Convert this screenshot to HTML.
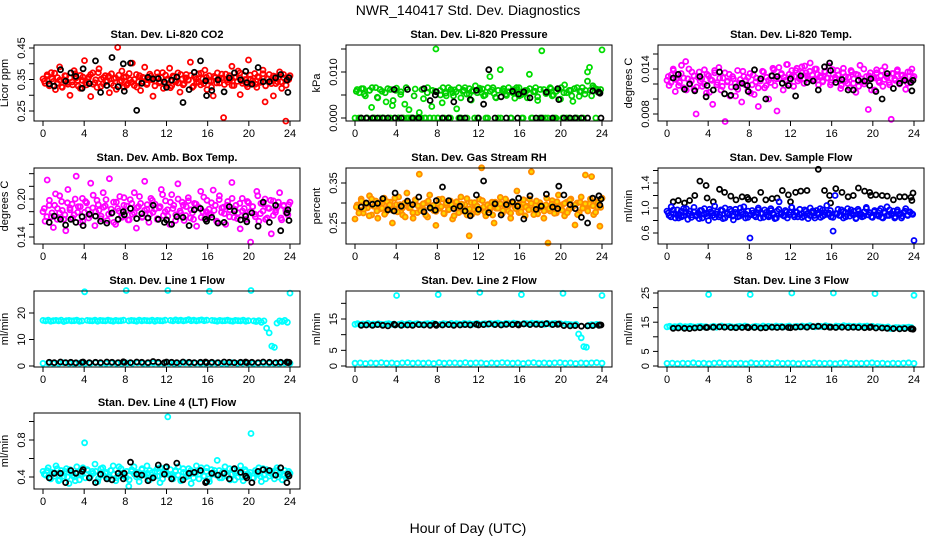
<!DOCTYPE html>
<html><head><meta charset="utf-8"><title>NWR_140417 Std. Dev. Diagnostics</title>
<style>
html,body{margin:0;padding:0;background:#fff;}
svg{display:block;font-family:"Liberation Sans",sans-serif;}
</style></head>
<body>
<svg id="chart" width="936" height="540" viewBox="0 0 936 540" xmlns="http://www.w3.org/2000/svg">
<rect x="0" y="0" width="936" height="540" fill="#fff"/>
<text x="468" y="15" font-size="14" text-anchor="middle">NWR_140417  Std. Dev. Diagnostics</text>
<text x="468" y="533" font-size="14" text-anchor="middle">Hour of Day (UTC)</text>
</svg>
<script>
// ---------- data ----------
const xTicks = [0,4,8,12,16,20,24];
const blackHours = [0.6,1.1,1.7,2.2,2.7,3.2,3.8,3.9,4.5,5.1,5.6,6.2,6.7,7.3,7.8,7.9,8.5,9.1,9.6,10.2,10.7,11.2,11.8,12.0,12.5,13.0,13.6,14.2,14.7,15.3,15.8,15.9,16.4,17.0,17.6,18.1,18.6,19.2,19.7,19.8,20.3,20.9,21.4,22.0,22.6,23.1,23.7,23.8,23.9];

const co2Red = [352,338,365,331,372,344,318,356,390,327,349,361,335,300,342,378,355,329,363,347,
410,333,358,296,371,340,325,384,351,336,362,345,308,368,331,355,452,342,377,326,
359,338,349,402,331,366,343,315,357,389,334,350,361,297,345,372,339,356,322,364,
348,386,330,358,343,371,310,352,337,366,349,405,325,359,341,368,333,352,380,318,
362,345,298,356,371,339,354,229,367,342,349,392,331,358,377,302,346,363,334,412,
351,338,369,325,357,344,380,279,352,366,337,298,359,343,374,322,355,218,348,362].map(v=>v/1000);
const co2Red2 = [345,360,330,352,370,338,348,325,362,341,355,333,368,347,322,358,340,351,366,335,
349,372,328,356,343,361,337,353,319,364,346,357,332,369,341,350,326,362,344,355,
338,367,349,330,358,343,372,336,352,324,361,347,339,366,333,355,348,363,329,351,
342,370,337,357,345,326,360,339,353,367,334,349,362,331,356,344,371,338,350,327,
364,346,335,359,341,368,330,352,345,361,337,356,343,366,332,350].map(v=>v/1000);
const co2Black = [336,329,381,345,371,360,322,384,337,409,309,331,420,327,400,313,402,252,338,357,352,353,342,325,348,358,277,318,373,409,346,299,315,349,311,355,371,349,376,340,335,388,343,343,355,366,348,309,356].map(v=>v/1000);

const presGreen = [0,62,55,0,64,48,0,60,23,0,66,44,0,58,0,35,0,62,27,0,65,0,51,0,30,0,18,0,0,63,0,12,0,42,0,66,0,25,0,150,
0,60,33,0,48,66,0,55,61,20,0,44,58,66,0,52,39,60,70,0,65,55,48,0,66,90,61,53,44,0,105,60,58,49,66,0,55,43,61,66,
50,0,60,44,95,0,57,66,38,0,146,62,53,0,66,48,0,58,63,41,0,72,55,0,60,36,0,66,47,58,0,60,100,110,48,66,0,62,55,148].map(v=>v/10000);
const presGreen2 = [58,0,64,52,0,60,66,0,45,62,0,55,64,0,38,60,0,57,0,66,0,0,48,0,
0,62,0,55,0,60,58,0,50,66,54,0,62,48,57,66,0,60,52,64,58,0,55,61,
63,50,0,58,66,45,60,0,64,52,57,0,62,66,48,0,55,60,64,0,58,46,62,0,
0,57,64,50,0,62,66,55,0,60,48,64,0,58,66,52,80,60,70,64,56,62].map(v=>v/10000);
const presBlack = [0,0,0,0,0,0,62,0,0,62,0,0,64,38,50,57,0,0,35,0,0,40,60,0,30,105,0,46,0,58,0,52,57,44,0,0,56,0,64,40,0,0,0,0,0,59,56,54,0].map(v=>v/10000);

const tempMag = [125,118,132,140,110,128,122,145,115,150,127,121,136,113,80,129,124,117,139,108,
131,126,93,135,119,142,112,128,70,123,133,116,127,104,138,121,96,130,125,111,
134,119,106,128,90,124,137,115,129,100,122,141,118,84,127,133,112,125,146,120,
130,117,138,124,129,143,121,135,127,148,132,126,140,119,131,124,137,128,144,122,
133,129,138,126,118,141,130,121,115,136,127,109,132,145,123,120,130,86,135,128,
112,139,124,131,117,143,129,122,73,134,125,139,120,131,127,113,136,123,140,130].map(v=>v/10000);
const tempMag2 = [130,122,138,126,118,134,128,112,140,124,131,116,136,127,120,133,109,125,138,122,
128,117,135,124,104,130,121,113,126,137,119,129,108,132,123,115,127,136,118,125,
131,139,127,142,134,129,146,133,138,130,141,127,135,144,131,137,126,140,133,129,
123,136,128,119,139,126,132,114,135,124,129,138,121,133,117,127,140,123,131,112,
128,135,122,138,126,131,119,134,127,137,124,132,129,121,136,128].map(v=>v/10000);
const tempBlack = [128,133,113,120,111,130,103,118,112,136,107,105,116,121,118,110,139,127,100,131,
130,121,118,127,104,131,122,124,112,143,148,138,122,126,112,112,125,124,118,127,110,100,134,114,121,125,122,111,125].map(v=>v/10000);

const ambMag = [180,165,230,190,172,155,208,185,178,196,168,150,215,183,192,175,236,188,163,201,
179,194,170,225,186,158,198,182,173,210,189,166,232,177,195,160,185,204,171,190,
181,167,199,176,210,154,188,193,172,228,184,163,201,179,192,168,186,215,174,197,
183,160,207,190,175,224,181,195,166,188,202,170,178,193,157,186,212,180,169,198,
184,175,214,190,163,205,179,187,160,196,183,226,171,190,178,153,201,185,168,194,
132,188,176,212,165,193,181,200,170,185,145,197,179,188,210,167,190,182,175,195].map(v=>v/1000);
const ambMag2 = [185,172,198,178,190,168,205,182,175,194,186,170,200,179,188,165,196,183,174,206,
180,191,169,187,199,176,184,163,195,181,173,202,189,167,193,178,186,204,171,182,
191,176,198,184,169,188,207,180,173,195,185,166,200,178,190,174,197,183,168,192,
187,171,203,180,176,194,182,165,199,186,177,190,172,201,184,169,193,181,175,196,
180,188,172,205,177,192,168,186,198,174,183,195,170,189,178,191].map(v=>v/1000);
const ambBlack = [163,173,168,159,168,163,172,158,176,173,165,162,178,168,180,175,185,169,177,170,
190,168,163,167,160,172,171,158,183,185,168,165,171,162,163,188,181,167,173,164,178,157,195,163,190,150,178,183,166].map(v=>v/1000);

const rhOrange = [260,295,282,310,275,300,288,318,270,292,305,262,285,298,312,278,290,302,250,286,
296,315,280,270,300,325,288,294,262,308,276,372,290,284,300,265,320,292,281,244,
298,287,310,273,295,283,305,260,291,300,276,315,288,296,270,218,301,285,293,277,
309,388,290,268,296,283,302,250,287,298,314,274,293,305,280,262,299,290,330,276,
285,300,268,292,310,378,284,296,273,301,288,262,295,200,280,306,290,275,320,287,
296,268,302,283,310,292,245,300,276,315,290,370,284,298,366,271,303,289,242,312].map(v=>v/1000);
const rhOrange2 = [290,275,305,285,298,268,310,292,280,300,287,272,303,295,282,312,278,296,288,265,
301,289,276,307,293,281,298,270,305,286,294,279,309,291,274,300,284,296,268,303,
288,297,279,311,285,272,301,292,283,306,277,295,289,270,302,287,298,281,310,293,
275,300,286,296,278,308,290,283,299,271,305,288,294,280,312,286,297,274,303,291,
282,299,276,307,289,295,271,302,287,298,280,310,293,277,301,289].map(v=>v/1000);
const rhBlack = [290,300,297,299,311,283,280,325,292,305,296,315,278,288,282,306,340,306,286,292,
280,268,320,284,355,276,298,270,296,303,292,312,260,318,284,292,322,290,286,342,320,296,286,264,250,312,318,295,310].map(v=>v/1000);

const flowBlue = [95,88,102,91,84,97,90,86,99,93,82,95,89,101,87,92,96,84,99,91,
80,94,88,103,90,86,97,83,100,92,89,95,81,98,91,87,94,102,90,85,
52,96,88,93,100,84,91,97,89,86,99,92,83,95,110,90,88,96,84,93,
101,89,94,86,98,91,87,95,83,100,92,88,96,90,85,97,89,104,92,86,
63,120,91,88,97,84,93,99,87,91,95,83,98,90,86,94,101,89,92,85,
96,90,87,99,84,93,102,88,91,95,86,97,90,84,93,99,88,94,91,48].map(v=>v/100);
const flowBlue2 = [92,86,97,90,84,95,88,99,91,85,94,89,83,96,90,87,98,92,85,94,
89,96,84,91,98,87,93,86,100,90,84,95,89,92,86,97,91,85,93,88,
96,90,84,98,92,87,94,89,101,86,93,90,85,97,91,88,95,84,92,99,
87,93,90,96,85,91,98,88,94,86,92,97,89,84,95,90,87,99,93,86,
94,89,96,85,92,88,97,90,84,94,91,87,95,89,93,90].map(v=>v/100);
const flowBlack = [110,112,108,112,120,143,136,116,110,130,125,119,113,118,117,114,113,125,113,115,
116,128,121,110,125,127,128,95,162,128,120,108,131,125,118,120,132,127,125,120,121,120,119,113,118,118,117,112,124].map(v=>v/100);

const line1Cyan = [17.2,17,17.3,16.9,17.1,17.2,17,17.3,16.8,17.1,17.2,17,17.1,17.3,16.9,17,28,17.2,17.1,17,17.3,16.9,17.2,17.1,
17,17.3,17.1,16.9,17.2,17,17.1,17.3,28.5,17,17.2,17.1,16.9,17.3,17,17.2,17.1,17,17.3,16.9,17.2,17.1,17,17.3,
28.5,17.2,17,17.4,17.1,17.3,17,17.2,17.5,17.1,17.3,17,17.2,17.4,17.1,17.3,28.2,17.2,17.1,16.9,17.2,17,17.1,17.3,
17,16.9,17.2,17.1,17,17.3,16.9,17.1,28.5,17,16.8,17.1,16.5,17,14.3,12.5,7.5,7.0,16.2,17,16.8,17.2,16.5,27.5];
const line1Low = [1.0,1.1,0.9,1.0,1.2,1.0,0.9,1.1,1.0,1.0,1.2,0.9,1.0,1.1,1.0,0.9,1.1,1.0,1.2,1.0,0.9,1.1,1.0,1.0,
1.1,0.9,1.0,1.2,1.0,1.1,0.9,1.0,1.0,1.1,1.0,0.9,1.2,1.0,1.1,1.0,0.9,1.0,1.1,1.0,1.0,0.9,1.1,1.0];
const line1Black = [1.4,1.3,1.5,1.3,1.4,1.2,1.4,1.5,1.3,1.4,1.3,1.5,1.4,1.3,1.6,1.4,1.3,1.5,1.4,1.3,1.7,1.4,1.3,1.5,1.4,
1.3,1.5,1.4,1.3,1.4,1.5,1.3,1.4,1.3,1.5,1.4,1.3,1.4,1.5,1.3,1.4,1.3,1.5,1.4,1.3,1.4,1.5,1.3,1.4];

const line2Cyan = [13.3,13.5,13.2,13.4,13.3,13.6,13.2,13.4,13.3,13.5,13.3,13.2,13.4,13.5,13.3,13.4,22.5,13.3,13.5,13.2,13.4,13.6,13.3,13.4,
13.5,13.3,13.2,13.4,13.5,13.3,13.6,13.4,22.8,13.3,13.5,13.4,13.2,13.6,13.3,13.5,13.4,13.3,13.6,13.4,13.5,13.3,13.4,13.6,
23.5,13.4,13.5,13.3,13.6,13.4,13.5,13.7,13.4,13.3,13.6,13.5,13.4,13.7,13.5,13.4,22.8,13.6,13.5,13.4,13.7,13.5,13.6,13.4,
13.5,13.3,13.6,13.4,13.5,13.6,13.3,13.5,23.2,13.4,13.3,13.2,13.1,13.3,10.2,9.0,6.2,6.0,13.0,13.2,13.1,13.3,13.2,22.5];
const line2Low = [0.9,1.0,0.8,1.0,0.9,1.1,0.9,1.0,0.8,1.0,1.1,0.9,1.0,0.9,1.0,0.8,1.1,0.9,1.0,1.0,0.9,1.1,0.9,1.0,
1.0,0.8,1.0,0.9,1.1,1.0,0.9,1.0,0.8,1.0,1.1,0.9,1.0,0.9,1.0,1.1,0.9,1.0,0.8,1.0,0.9,1.0,1.1,0.9];
const line2Black = [13.0,13.1,13.0,13.2,13.0,12.8,13.3,13.1,13.0,13.1,13.0,13.2,13.1,13.0,13.3,13.0,13.1,13.2,13.0,13.1,
13.2,13.1,13.3,13.1,13.2,13.4,13.2,13.1,13.3,13.2,13.3,13.1,13.4,13.2,13.3,13.2,13.5,13.2,13.3,13.4,
12.9,12.8,12.9,12.7,12.8,12.9,13.0,13.1,13.1];

const line3Cyan = [13.4,13.6,13.3,13.5,13.4,13.7,13.3,13.5,13.4,13.6,13.4,13.3,13.5,13.6,13.4,13.5,24.5,13.4,13.6,13.3,13.5,13.7,13.4,13.5,
13.6,13.4,13.3,13.5,13.6,13.4,13.7,13.5,24.5,13.4,13.6,13.5,13.3,13.7,13.4,13.6,13.5,13.4,13.7,13.5,13.6,13.4,13.5,13.7,
25.0,13.5,13.6,13.4,13.7,13.5,13.6,13.8,13.5,13.4,13.7,13.6,13.5,13.8,13.6,13.5,25.0,13.7,13.6,13.5,13.8,13.6,13.7,13.5,
13.6,13.4,13.7,13.5,13.6,13.7,13.4,13.6,24.8,13.5,13.4,13.3,13.2,13.4,12.8,13.0,13.2,13.1,13.0,13.2,13.1,13.3,13.2,24.2];
const line3Low = [0.9,1.0,0.8,1.0,0.9,1.1,0.9,1.0,0.8,1.0,1.1,0.9,1.0,0.9,1.0,0.8,1.1,0.9,1.0,1.0,0.9,1.1,0.9,1.0,
1.0,0.8,1.0,0.9,1.1,1.0,0.9,1.0,0.8,1.0,1.1,0.9,1.0,0.9,1.0,1.1,0.9,1.0,0.8,1.0,0.9,1.0,1.1,0.9];
const line3Black = [12.9,13.0,12.9,12.8,13.0,13.1,13.2,13.2,13.3,13.4,13.3,13.2,13.1,13.2,13.3,13.1,13.2,13.0,13.1,13.3,
13.2,13.3,13.2,13.1,13.3,13.4,13.3,13.5,13.6,13.4,13.3,13.3,13.2,13.3,13.2,13.3,13.2,13.1,13.2,13.4,
13.0,13.0,12.9,12.8,12.7,12.8,12.7,12.8,12.6];

const line4Cyan = [460,420,500,380,440,520,360,470,410,490,330,450,400,510,370,430,770,480,390,460,540,350,420,500,
440,380,470,520,360,410,490,430,390,300,460,510,400,350,480,430,520,370,450,410,490,340,440,500,
1050,420,380,470,510,360,450,400,490,330,440,520,380,460,410,500,350,430,470,580,390,450,510,420,
370,480,440,400,520,360,460,430,870,390,450,500,350,420,480,410,460,380,500,430,370,470,410,440].map(v=>v/1000);
const line4Cyan2 = [430,470,390,450,410,490,370,440,460,400,480,420,360,450,430,500,390,470,410,440,
460,380,490,420,450,400,470,430,390,510,440,410,460,370,480,430,450,400,490,420,
440,470,390,460,410,500,380,450,430,480,400,460,420,370,490,440,410,470,390,450,
430,500,410,460,380,480,440,420,470,390,450,410,490,430,370,460,440,400,480,420,
450,390,470,430,410,490,380,460,440,420,470,400,450,430,390,460].map(v=>v/1000);
const line4Black = [390,440,440,340,470,440,460,480,390,340,430,380,370,440,380,440,560,430,420,360,
390,530,430,510,380,550,370,440,450,470,340,350,440,420,440,380,490,450,410,390,
340,460,480,470,420,500,340,430,410].map(v=>v/1000);

// ---------- layout ----------
const colLeft = [34,346,658];
const rowTop = [45,168,291,413];
const boxW = 266, boxH = 76;
const svg = document.getElementById('chart');
const NS = 'http://www.w3.org/2000/svg';

function el(tag, attrs, parent){
  const e = document.createElementNS(NS, tag);
  for (const k in attrs) e.setAttribute(k, attrs[k]);
  (parent||svg).appendChild(e);
  return e;
}

const panels = [
  {col:0,row:0,title:'Stan. Dev. Li-820 CO2',ylab:'Licor ppm',cal:[0.25,66,0.45,3],ticks:[0.25,0.30,0.35,0.40,0.45],labels:['0.25','0.35','0.45'],
   series:[{c:'#ff0000',v:co2Red},{c:'#ff0000',v:co2Red2,off:true},{c:'#000',v:co2Black,h:blackHours}]},
  {col:1,row:0,title:'Stan. Dev. Li-820 Pressure',ylab:'kPa',cal:[0,73,0.010,27],ticks:[0,0.005,0.010,0.015],labels:['0.000','0.010'],
   series:[{c:'#00dd00',v:presGreen},{c:'#00cc00',v:presGreen2,off:true},{c:'#000',v:presBlack,h:blackHours}]},
  {col:2,row:0,title:'Stan. Dev. Li-820 Temp.',ylab:'degrees C',cal:[0.008,69,0.014,24],ticks:[0.008,0.010,0.012,0.014,0.016],labels:['0.008','0.014'],
   series:[{c:'#ff00ff',v:tempMag},{c:'#ff00ff',v:tempMag2,off:true},{c:'#000',v:tempBlack,h:blackHours}]},
  {col:0,row:1,title:'Stan. Dev. Amb. Box Temp.',ylab:'degrees C',cal:[0.14,69,0.20,31],ticks:[0.14,0.16,0.18,0.20,0.22,0.24],labels:['0.14','0.20'],
   series:[{c:'#ff00ff',v:ambMag},{c:'#ff00ff',v:ambMag2,off:true},{c:'#000',v:ambBlack,h:blackHours}]},
  {col:1,row:1,title:'Stan. Dev. Gas Stream RH',ylab:'percent',cal:[0.25,55,0.35,15],ticks:[0.25,0.30,0.35],labels:['0.25','0.35'],
   series:[{c:'#ff8c00',f:'#ffd700',v:rhOrange},{c:'#ff8c00',f:'#ffd700',v:rhOrange2,off:true},{c:'#000',v:rhBlack,h:blackHours}]},
  {col:2,row:1,title:'Stan. Dev. Sample Flow',ylab:'ml/min',cal:[0.6,65,1.4,15],ticks:[0.6,0.8,1.0,1.2,1.4,1.6],labels:['0.6','1.0','1.4'],
   series:[{c:'#000',v:flowBlack,h:blackHours},{c:'#0000ff',v:flowBlue},{c:'#0000ff',v:flowBlue2,off:true}]},
  {col:0,row:2,title:'Stan. Dev. Line 1 Flow',ylab:'ml/min',cal:[0,75,20,22],ticks:[0,10,20],labels:['0','10','20'],
   series:[{c:'#00ffff',v:line1Cyan},{c:'#00ffff',v:line1Low},{c:'#000',v:line1Black,h:blackHours}]},
  {col:1,row:2,title:'Stan. Dev. Line 2 Flow',ylab:'ml/min',cal:[0,75,15,28],ticks:[0,5,10,15,20],labels:['0','5','15'],
   series:[{c:'#00ffff',v:line2Cyan},{c:'#00ffff',v:line2Low},{c:'#000',v:line2Black,h:blackHours}]},
  {col:2,row:2,title:'Stan. Dev. Line 3 Flow',ylab:'ml/min',cal:[0,75,25,2],ticks:[0,5,10,15,20,25],labels:['0','5','15','25'],
   series:[{c:'#00ffff',v:line3Cyan},{c:'#00ffff',v:line3Low},{c:'#000',v:line3Black,h:blackHours}]},
  {col:0,row:3,title:'Stan. Dev. Line 4 (LT) Flow',ylab:'ml/min',cal:[0.4,64,0.8,27],ticks:[0.4,0.6,0.8,1.0],labels:['0.4','0.8'],
   series:[{c:'#00ffff',v:line4Cyan},{c:'#00ffff',v:line4Cyan2,off:true},{c:'#000',v:line4Black,h:blackHours}]}
];

panels.forEach((p, pi) => {
  const L = colLeft[p.col], T = rowTop[p.row];
  const g = el('g', {});
  
  
  const xAt = h => L + 9 + h * (247/24);
  const yAt = v => T + p.cal[1] + (v - p.cal[0]) * (p.cal[3] - p.cal[1]) / (p.cal[2] - p.cal[0]);

  const title = el('text', {x: L + boxW/2, y: T - 7, 'font-size': 11, 'font-weight': 'bold', 'text-anchor': 'middle'}, g);
  
  
  title.textContent = p.title;

  const ylab = el('text', {x: 0, y: 0, 'font-size': 11, 'text-anchor': 'middle', transform: `translate(${L - 26},${T + boxH/2}) rotate(-90)`}, g);
  
  
  ylab.textContent = p.ylab;

  p.series.forEach((s, si) => {
    const sg = el('g', {stroke: s.c, fill: s.f || 'none', 'stroke-width': 1.8}, g);
    
    
    s.v.forEach((v, i) => {
      const h = s.h ? s.h[i] : (s.off ? (i + 0.5) * 24 / s.v.length : i * 24 / (s.v.length - 1));
      const c = el('circle', {cx: xAt(h).toFixed(1), cy: yAt(v).toFixed(1), r: 2.5}, sg);
      
      
    });
  });

  const box = el('rect', {x: L, y: T, width: boxW, height: boxH, fill: 'none', stroke: '#000', 'stroke-width': 1}, g);
  
  

  const xa = el('g', {stroke: '#000', 'stroke-width': 1}, g);
  
  
  xTicks.forEach(t => {
    el('line', {x1: xAt(t), x2: xAt(t), y1: T + boxH, y2: T + boxH + 5}, xa);
    const tx = el('text', {x: xAt(t), y: T + boxH + 16, 'font-size': 11, 'text-anchor': 'middle', stroke: 'none', fill: '#000'}, xa);
    
    
    tx.textContent = t;
  });

  const ya = el('g', {stroke: '#000', 'stroke-width': 1}, g);
  
  
  p.ticks.forEach(t => {
    el('line', {x1: L, x2: L - 5, y1: yAt(t), y2: yAt(t)}, ya);
  });
  p.labels.forEach(lb => {
    const v = parseFloat(lb);
    const ty = el('text', {x: 0, y: 0, 'font-size': 11, 'text-anchor': 'middle', stroke: 'none', fill: '#000',
      transform: `translate(${L - 9},${yAt(v)}) rotate(-90)`}, ya);
    
    
    ty.textContent = lb;
  });
});
</script>
</body></html>
